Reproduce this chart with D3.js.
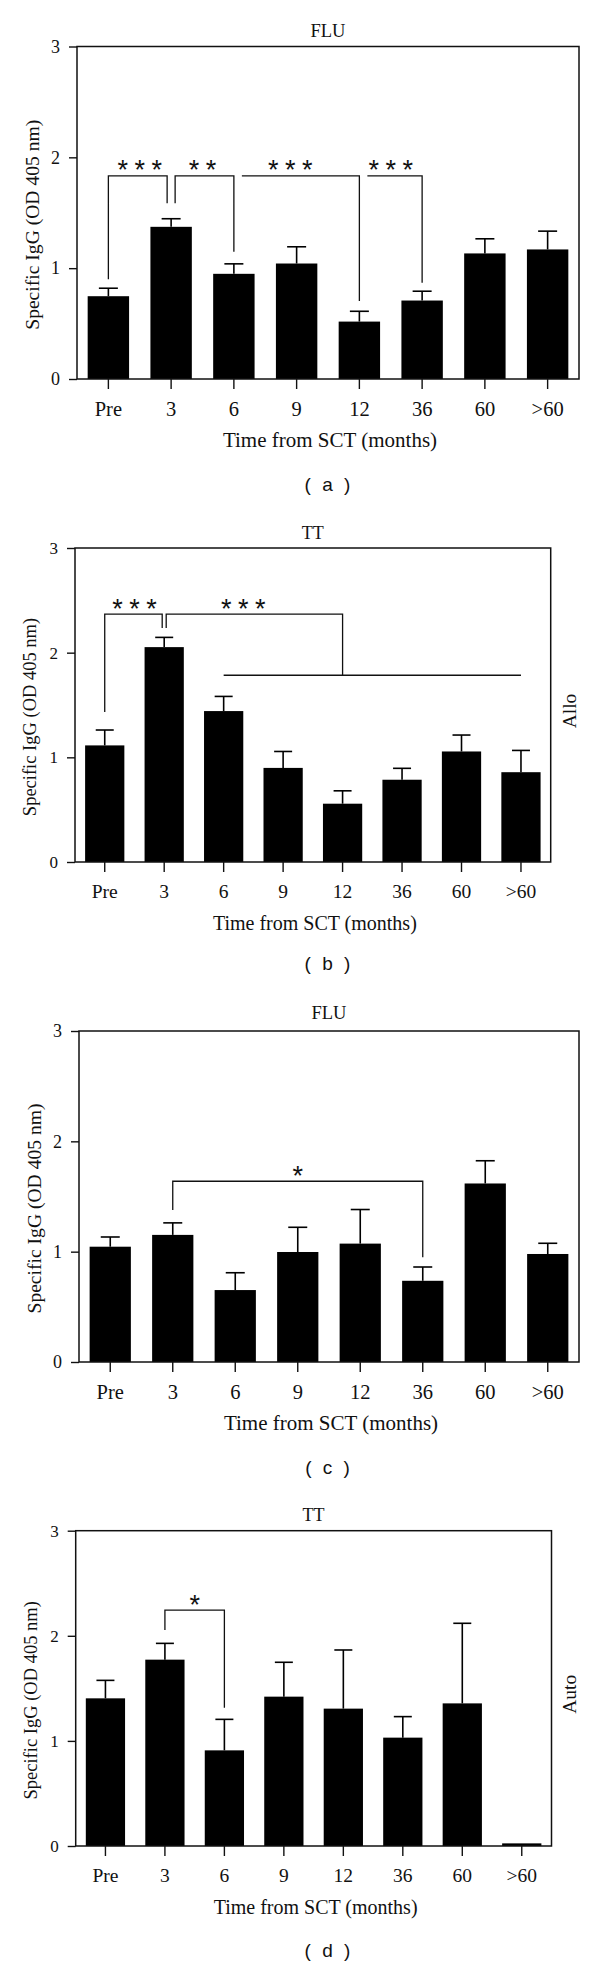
<!DOCTYPE html>
<html><head><meta charset="utf-8">
<script src="https://cdn.jsdelivr.net/npm/d3@7"></script>
<style>body{margin:0;background:#fff} svg{display:block}</style>
</head><body><svg id="chart" width="600" height="1965"></svg>
<script>
// ---------- DATA ----------
const categories = ["Pre","3","6","9","12","36","60",">60"];
const yTicks = [0,1,2,3];
const yAxisTitle = "Specific IgG (OD 405 nm)";
const xAxisTitle = "Time from SCT (months)";

// (a) Allo, FLU
const aMean  = [0.747,1.373,0.949,1.042,0.518,0.708,1.133,1.169];
const aUpper = [0.819,1.446,1.039,1.193,0.611,0.792,1.265,1.334];
// (b) Allo, TT
const bMean  = [1.114,2.053,1.442,0.899,0.557,0.786,1.056,0.858];
const bUpper = [1.261,2.146,1.582,1.056,0.680,0.895,1.213,1.066];
// (c) Auto, FLU
const cMean  = [1.045,1.152,0.652,0.997,1.073,0.736,1.618,0.979];
const cUpper = [1.133,1.261,0.809,1.221,1.382,0.861,1.824,1.076];
// (d) Auto, TT
const dMean  = [1.405,1.773,0.910,1.421,1.307,1.031,1.357,0.025];
const dUpper = [1.576,1.928,1.205,1.748,1.865,1.231,2.119,0.025];

// significance brackets (values in data units)
const aBrackets = [
  {from:"Pre", to:"3",  y:1.832, fromLeg:0.900, toLeg:1.586, label:"***", at:0.5},
  {from:"3",   to:"6",  y:1.832, fromLeg:1.586, toLeg:1.149, label:"**",  at:1.5},
  {from:"6",   to:"12", y:1.832, fromLeg:null,  toLeg:0.704, label:"***", at:2.9},
  {from:"12",  to:"36", y:1.832, fromLeg:null,  toLeg:0.869, label:"***", at:4.5}
];
const bBrackets = [
  {from:"Pre", to:"3",  y:2.368, fromLeg:1.433, toLeg:2.235, label:"***", at:0.5},
  {from:"3",   to:"12", y:2.368, fromLeg:2.235, toLeg:1.784, label:"***", at:2.33}
];
const bGroupLines = [{from:"6", to:">60", y:1.784}];
const cBrackets = [
  {from:"3", to:"36", y:1.638, fromLeg:1.378, toLeg:0.949, label:"*", at:3}
];
const dBrackets = [
  {from:"3", to:"6", y:2.245, fromLeg:2.055, toLeg:1.316, label:"*", at:1.5}
];

// ---------- LAYOUT ----------
const panels = [
  {mean:aMean, upper:aUpper, brackets:aBrackets, groups:[], nudges:[[0,-4],[4,0],[8,0],[8,0]],
   title:"FLU", side:null, caption:"( a )",
   L:77, R:579, T:46.5, B:379, titleY:30.7, capY:491, fs:20.5, afs:21, yts:19.6, tfs:18.5, yfs:18, cap:19},
  {mean:bMean, upper:bUpper, brackets:bBrackets, groups:bGroupLines, nudges:[[0,-2],[2,0]],
   title:"TT", side:"Allo", caption:"( b )",
   L:75, R:550.7, T:548, B:862, titleY:532.5, capY:970, fs:19.5, afs:20, yts:18.5, tfs:18, yfs:17, cap:18},
  {mean:cMean, upper:cUpper, brackets:cBrackets, groups:[], nudges:[[0,0]],
   title:"FLU", side:null, caption:"( c )",
   L:79, R:579, T:1031, B:1362, titleY:1012.7, capY:1473.5, fs:20.5, afs:21, yts:19.6, tfs:18.5, yfs:18, cap:19},
  {mean:dMean, upper:dUpper, brackets:dBrackets, groups:[], nudges:[[0,0]],
   title:"TT", side:"Auto", caption:"( d )",
   L:75.7, R:551.5, T:1530.7, B:1846, titleY:1515, capY:1957, fs:19.5, afs:20, yts:18.5, tfs:18, yfs:17, cap:18}
];

const INK = "#111";
const SERIF = "'Liberation Serif', 'Times New Roman', serif";
const svg = d3.select("#chart");

panels.forEach(p => {
  const g = svg.append("g");
  const x = d3.scaleBand().domain(categories).range([p.L, p.R]).paddingInner(0.34).paddingOuter(0.17);
  const y = d3.scaleLinear().domain([0,3]).range([p.B, p.T]);
  const bw = x.bandwidth();
  const cx = c => x(c) + bw/2;
  const rows = categories.map((c,i) => ({c, m:p.mean[i], u:p.upper[i]}));

  // bars
  g.selectAll("rect.bar").data(rows).join("rect")
    .attr("x", d => x(d.c)).attr("y", d => y(d.m))
    .attr("width", bw).attr("height", d => y(0) - y(d.m))
    .attr("fill", "#000");

  // error bars
  const eb = rows.filter(d => d.u > d.m);
  g.selectAll("line.err").data(eb).join("line")
    .attr("x1", d => cx(d.c)).attr("x2", d => cx(d.c))
    .attr("y1", d => y(d.m)).attr("y2", d => y(d.u))
    .attr("stroke", "#000").attr("stroke-width", 1.6);
  g.selectAll("line.cap").data(eb).join("line")
    .attr("x1", d => cx(d.c) - p.cap/2).attr("x2", d => cx(d.c) + p.cap/2)
    .attr("y1", d => y(d.u)).attr("y2", d => y(d.u))
    .attr("stroke", "#000").attr("stroke-width", 1.6);

  // box
  g.append("rect").attr("x", p.L).attr("y", p.T).attr("width", p.R - p.L).attr("height", p.B - p.T)
    .attr("fill", "none").attr("stroke", INK).attr("stroke-width", 1.5);

  // y axis
  const ya = g.append("g").attr("transform", `translate(${p.L},0)`)
    .call(d3.axisLeft(y).tickValues(yTicks).tickFormat(d3.format("d")).tickSize(8).tickPadding(9));
  ya.select(".domain").remove();
  ya.selectAll("line").attr("stroke", INK).attr("stroke-width", 1.4);
  ya.selectAll("text").attr("font-family", SERIF).attr("font-size", p.yfs).attr("fill", INK);

  // x axis
  const xa = g.append("g").attr("transform", `translate(0,${p.B})`)
    .call(d3.axisBottom(x).tickSize(10).tickPadding(12));
  xa.select(".domain").remove();
  xa.selectAll("line").attr("stroke", INK).attr("stroke-width", 1.4);
  xa.selectAll("text").attr("font-family", SERIF).attr("font-size", p.fs).attr("fill", INK);

  // titles
  g.append("text").attr("x", (p.L + p.R)/2).attr("y", p.titleY).attr("dy", "0.35em")
    .attr("text-anchor", "middle").attr("font-family", SERIF).attr("font-size", p.tfs).attr("fill", INK)
    .text(p.title);
  g.append("text").attr("x", (p.L + p.R)/2 + 2).attr("y", p.B + 68).attr("text-anchor", "middle")
    .attr("font-family", SERIF).attr("font-size", p.afs).attr("fill", INK).text(xAxisTitle);
  const yc = (p.T + p.B)/2 + 12;
  g.append("text").attr("transform", `translate(${p.L - 45},${yc}) rotate(-90)`).attr("dy", "0.35em")
    .attr("text-anchor", "middle").attr("font-family", SERIF).attr("font-size", p.yts).attr("fill", INK)
    .text(yAxisTitle);
  if (p.side) {
    g.append("text").attr("transform", `translate(${p.R + 18},${yc - 6}) rotate(-90)`).attr("dy", "0.35em")
      .attr("text-anchor", "middle").attr("font-family", SERIF).attr("font-size", p.fs).attr("fill", INK)
      .text(p.side);
  }
  g.append("text").attr("x", 329).attr("y", p.capY).attr("text-anchor", "middle")
    .attr("font-family", "'Liberation Sans', Arial, sans-serif").attr("font-size", 19)
    .attr("letter-spacing", 3).attr("fill", INK).text(p.caption);

  // brackets
  const step = x.step();
  p.brackets.forEach((br, i) => {
    const [n1, n2] = p.nudges[i];
    const x1 = cx(br.from) + n1, x2 = cx(br.to) + n2, yy = y(br.y);
    let d = "";
    d += br.fromLeg !== null ? `M${x1},${y(br.fromLeg)}L${x1},${yy}` : `M${x1},${yy}`;
    d += `L${x2},${yy}`;
    if (br.toLeg !== null) d += `L${x2},${y(br.toLeg)}`;
    g.append("path").attr("d", d).attr("fill", "none").attr("stroke", INK).attr("stroke-width", 1.3);
    const lx = cx(categories[0]) + br.at * step;
    const ls = 6.5;
    g.append("text").attr("x", lx + (br.label.length > 1 ? ls/2 : 0)).attr("y", yy - 12.5 + 16)
      .attr("text-anchor", "middle").attr("font-family", "'Liberation Sans', Arial, sans-serif")
      .attr("font-size", 27).attr("letter-spacing", br.label.length > 1 ? ls : 0)
      .attr("fill", INK).text(br.label);
  });
  p.groups.forEach(gl => {
    g.append("line").attr("x1", cx(gl.from)).attr("x2", cx(gl.to))
      .attr("y1", y(gl.y)).attr("y2", y(gl.y)).attr("stroke", INK).attr("stroke-width", 1.3);
  });
});
</script></body></html>
